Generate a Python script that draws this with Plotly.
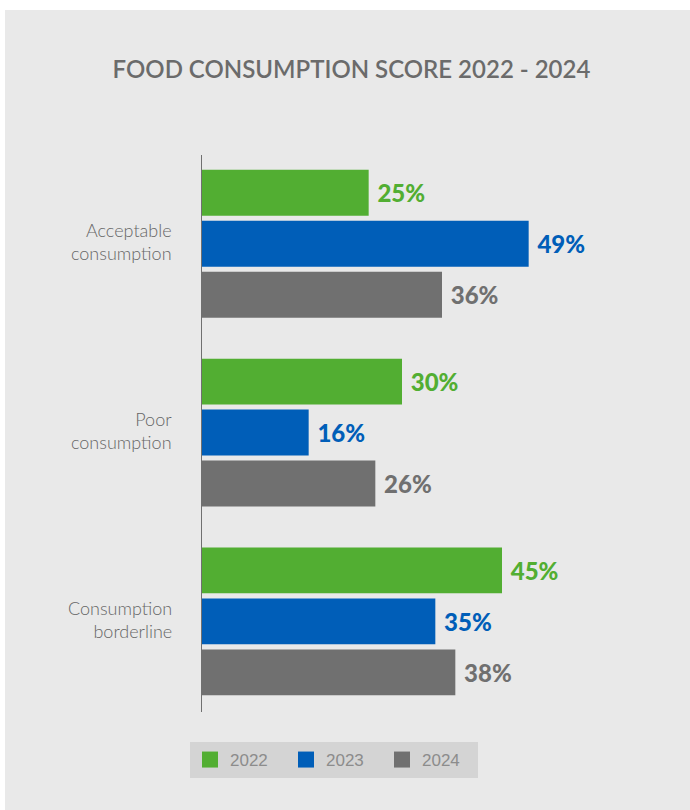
import plotly.graph_objects as go

# Food consumption score categories and yearly shares (%)
categories = ["Acceptable<br>consumption", "Poor<br>consumption", "Consumption<br>borderline"]
years = ["2022", "2023", "2024"]
values_2022 = [25, 30, 45]
values_2023 = [49, 16, 35]
values_2024 = [36, 26, 38]
series = [values_2022, values_2023, values_2024]
colors = ["#52ae32", "#005eb8", "#707070"]

fig = go.Figure()

for year, vals, col in zip(years, series, colors):
    fig.add_trace(go.Bar(
        y=categories,
        x=vals,
        orientation="h",
        name=year,
        marker=dict(color=col, line=dict(width=0)),
        text=[f" {v}%" for v in vals],
        textposition="outside",
        constraintext="none",
        cliponaxis=False,
        textfont=dict(family="Lato", size=24, color=col, weight=900),
        showlegend=False,
        hoverinfo="skip",
    ))

# Legend entries with larger square swatches
for year, col in zip(years, colors):
    fig.add_trace(go.Scatter(
        x=[None], y=[None], mode="markers", name=year,
        marker=dict(symbol="square", size=17, color=col),
        showlegend=True,
    ))

# Plot area geometry (pixels)
L, R, T, B = 202, 642, 155, 712
W, H = 690, 810
W_plot, H_plot = R - L, B - T

def px_x(p):
    return (p - L) / W_plot

def px_y(p):
    return (B - p) / H_plot

# Right-aligned category labels left of the axis line
label_annotations = [
    dict(
        x=px_x(174), xref="paper", xanchor="right",
        y=cat, yref="y", yanchor="middle", yshift=2,
        text=cat, showarrow=False, align="right",
        font=dict(family="Lato", size=18, color="#666666", weight=300),
    )
    for cat in categories
]

fig.update_layout(
    width=W, height=H,
    margin=dict(l=L, r=W - R, t=T, b=H - B, pad=0),
    paper_bgcolor="white",
    plot_bgcolor="rgba(0,0,0,0)",
    barmode="group",
    bargap=0.19,
    bargroupgap=0.1,
    title=dict(
        text="FOOD CONSUMPTION SCORE 2022 - 2024",
        x=351.5 / W, xref="container", xanchor="center",
        y=1 - 70 / H, yref="container", yanchor="middle",
        font=dict(family="Lato", size=24, color="#6b6b6b", weight=600),
    ),
    shapes=[dict(
        type="rect", xref="paper", yref="paper", layer="below",
        x0=px_x(5), x1=px_x(700), y0=px_y(10), y1=px_y(820),
        fillcolor="#e9e9e9", line=dict(width=0),
    )],
    annotations=label_annotations,
    xaxis=dict(range=[0, 66], showgrid=False, zeroline=False,
               showticklabels=False, showline=False, fixedrange=True),
    yaxis=dict(
        type="category", range=[2.48, -0.47],
        showgrid=False, zeroline=False,
        showline=True, linecolor="#707070", linewidth=1,
        ticks="", showticklabels=False,
    ),
    legend=dict(
        orientation="h",
        x=px_x(190), xanchor="left",
        y=px_y(742), yanchor="top",
        bgcolor="#d4d4d4",
        entrywidth=51, entrywidthmode="pixels",
        font=dict(family="Liberation Sans", size=17, color="#8c8c8c"),
        itemsizing="trace",
        tracegroupgap=0,
    ),
)

fig.write_html("out.html")
